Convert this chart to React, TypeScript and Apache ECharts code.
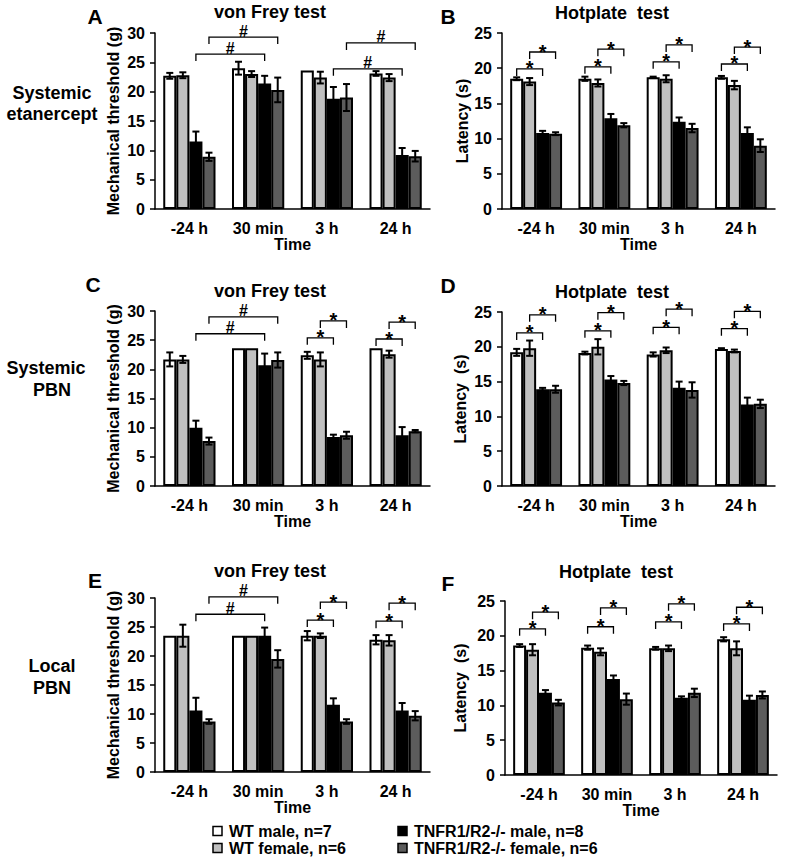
import React, { useEffect, useRef } from 'react';
import * as echarts from 'echarts';

const CATEGORIES = ['-24 h', '30 min', '3 h', '24 h'];
const SERIES_NAMES = ['WT male, n=7', 'WT female, n=6', 'TNFR1/R2-/- male, n=8', 'TNFR1/R2-/- female, n=6'];
const COLORS = ['#ffffff', '#c0c0c0', '#000000', '#5c5c5c'];

// rows: WT male, WT female, TNFR1/R2-/- male, TNFR1/R2-/- female ; columns: categories
const A_MEANS = [
  [22.7, 24.0, 23.6, 23.1],
  [22.8, 23.0, 22.4, 22.4],
  [11.5, 21.4, 18.8, 9.2],
  [8.9, 20.3, 19.0, 9.0],
];
const A_ERRS = [
  [0.5, 1.1, 0, 0.4],
  [0.5, 0.5, 1.0, 0.6],
  [1.7, 1.3, 2.0, 1.2],
  [0.7, 2.1, 2.3, 0.9],
];
const B_MEANS = [
  [18.5, 18.5, 18.7, 18.7],
  [18.1, 17.9, 18.5, 17.6],
  [10.8, 12.9, 12.4, 10.8],
  [10.7, 11.9, 11.5, 9.0],
];
const B_ERRS = [
  [0.2, 0.3, 0.1, 0.2],
  [0.5, 0.5, 0.5, 0.6],
  [0.3, 0.6, 0.6, 0.8],
  [0.2, 0.3, 0.6, 0.9],
];
const C_MEANS = [
  [21.7, 23.6, 22.4, 23.6],
  [21.7, 23.6, 21.7, 22.6],
  [10.0, 20.7, 8.4, 8.7],
  [7.7, 21.6, 8.7, 9.4],
];
const C_ERRS = [
  [1.2, 0, 0.6, 0],
  [0.6, 0, 1.2, 0.6],
  [1.2, 2.0, 0.4, 1.4],
  [0.6, 1.3, 0.6, 0.2],
];
const D_MEANS = [
  [19.2, 19.1, 18.9, 19.7],
  [19.8, 20.0, 19.5, 19.4],
  [13.9, 15.3, 14.1, 11.7],
  [13.9, 14.8, 13.8, 11.8],
];
const D_ERRS = [
  [0.5, 0.2, 0.3, 0.1],
  [1.1, 1.1, 0.4, 0.2],
  [0.2, 0.5, 0.9, 1.0],
  [0.5, 0.3, 1.1, 0.6],
];
const E_MEANS = [
  [23.5, 23.5, 23.5, 22.8],
  [23.5, 23.5, 23.5, 22.7],
  [10.6, 23.5, 11.6, 10.6],
  [8.7, 19.5, 8.7, 9.7],
];
const E_ERRS = [
  [0, 0, 0.8, 0.8],
  [1.9, 0, 0.4, 0.9],
  [2.2, 1.4, 1.1, 1.3],
  [0.4, 1.5, 0.4, 0.8],
];
const F_MEANS = [
  [18.6, 18.3, 18.2, 19.5],
  [18.0, 17.7, 18.2, 18.2],
  [11.8, 13.8, 11.1, 10.8],
  [10.4, 10.9, 11.8, 11.5],
];
const F_ERRS = [
  [0.2, 0.3, 0.2, 0.3],
  [0.8, 0.5, 0.4, 1.0],
  [0.4, 0.5, 0.2, 0.6],
  [0.4, 0.8, 0.6, 0.5],
];

// brackets: [fromCategory, fromSeries, toCategory, toSeries, level, mark]
const A_BRACKETS: [number, number, number, number, number, string][] = [
  [0, 2, 1, 2, 26.4, '#'], [0, 3, 1, 3, 29.3, '#'],
  [2, 2, 3, 2, 23.9, '#'], [2, 3, 3, 3, 28.3, '#'],
];
const B_BRACKETS: [number, number, number, number, number, string][] = [
  [0, 0, 0, 2, 19.9, '*'], [0, 1, 0, 3, 22.3, '*'],
  [1, 0, 1, 2, 20.2, '*'], [1, 1, 1, 3, 22.7, '*'],
  [2, 0, 2, 2, 20.9, '*'], [2, 1, 2, 3, 23.3, '*'],
  [3, 0, 3, 2, 20.6, '*'], [3, 1, 3, 3, 23.0, '*'],
];
const C_BRACKETS: [number, number, number, number, number, string][] = [
  [0, 2, 1, 2, 26.1, '#'], [0, 3, 1, 3, 29.0, '#'],
  [2, 0, 2, 2, 25.4, '*'], [2, 1, 2, 3, 28.3, '*'],
  [3, 0, 3, 2, 25.2, '*'], [3, 1, 3, 3, 28.1, '*'],
];
const D_BRACKETS: [number, number, number, number, number, string][] = [
  [0, 0, 0, 2, 22.0, '*'], [0, 1, 0, 3, 24.6, '*'],
  [1, 0, 1, 2, 22.3, '*'], [1, 1, 1, 3, 24.9, '*'],
  [2, 0, 2, 2, 22.8, '*'], [2, 1, 2, 3, 25.4, '*'],
  [3, 0, 3, 2, 22.6, '*'], [3, 1, 3, 3, 25.1, '*'],
];
const E_BRACKETS: [number, number, number, number, number, string][] = [
  [0, 2, 1, 2, 27.2, '#'], [0, 3, 1, 3, 30.2, '#'],
  [2, 0, 2, 2, 26.2, '*'], [2, 1, 2, 3, 29.3, '*'],
  [3, 0, 3, 2, 26.0, '*'], [3, 1, 3, 3, 29.1, '*'],
];
const F_BRACKETS: [number, number, number, number, number, string][] = [
  [0, 0, 0, 2, 21.0, '*'], [0, 1, 0, 3, 23.4, '*'],
  [1, 0, 1, 2, 21.3, '*'], [1, 1, 1, 3, 24.0, '*'],
  [2, 0, 2, 2, 22.0, '*'], [2, 1, 2, 3, 24.6, '*'],
  [3, 0, 3, 2, 21.7, '*'], [3, 1, 3, 3, 24.1, '*'],
];

const FONT = '"Liberation Sans", Arial, Helvetica, sans-serif';
const CAT_GAP = 0.24;

const PANELS = [
  { letter: 'A', means: A_MEANS, errs: A_ERRS, brackets: A_BRACKETS, grid: { left: 155, top: 33, width: 275, height: 176 }, max: 30, yName: 'Mechanical threshold (g)', nameGap: 34, title: 'von Frey test', tx: 270, ty: 12, lx: 95, ly: 16 },
  { letter: 'B', means: B_MEANS, errs: B_ERRS, brackets: B_BRACKETS, grid: { left: 502, top: 33, width: 273, height: 176 }, max: 25, yName: 'Latency (s)', nameGap: 29, title: 'Hotplate  test', tx: 612, ty: 13, lx: 448, ly: 16 },
  { letter: 'C', means: C_MEANS, errs: C_ERRS, brackets: C_BRACKETS, grid: { left: 155, top: 311, width: 275, height: 175 }, max: 30, yName: 'Mechanical threshold (g)', nameGap: 34, title: 'von Frey test', tx: 270, ty: 291, lx: 93, ly: 284 },
  { letter: 'D', means: D_MEANS, errs: D_ERRS, brackets: D_BRACKETS, grid: { left: 502, top: 312, width: 273, height: 174 }, max: 25, yName: 'Latency  (s)', nameGap: 34, title: 'Hotplate  test', tx: 612, ty: 292, lx: 448, ly: 285 },
  { letter: 'E', means: E_MEANS, errs: E_ERRS, brackets: E_BRACKETS, grid: { left: 155, top: 598, width: 275, height: 174 }, max: 30, yName: 'Mechanical threshold (g)', nameGap: 34, title: 'von Frey test', tx: 270, ty: 571, lx: 95, ly: 580 },
  { letter: 'F', means: F_MEANS, errs: F_ERRS, brackets: F_BRACKETS, grid: { left: 505, top: 601, width: 272, height: 174 }, max: 25, yName: 'Latency  (s)', nameGap: 37, title: 'Hotplate  test', tx: 616, ty: 572, lx: 448, ly: 583 },
];

const ROW_LABELS = [
  { text: 'Systemic', x: 52, y: 93 },
  { text: 'etanercept', x: 52, y: 114 },
  { text: 'Systemic', x: 46, y: 368 },
  { text: 'PBN', x: 52, y: 390 },
  { text: 'Local', x: 52, y: 666 },
  { text: 'PBN', x: 52, y: 688 },
];

function barOffset(api: any, s: number) {
  const catW = api.size([1, 0])[0];
  const group = catW * (1 - CAT_GAP);
  const bw = group / 4;
  return -group / 2 + bw * (s + 0.5);
}

function errRender(params: any, api: any) {
  const c = api.value(0);
  const m = api.value(1);
  const e = api.value(2);
  const s = api.value(3);
  if (!(e > 0)) return { type: 'group', children: [] };
  const x = api.coord([c, m])[0] + barOffset(api, s);
  const yT = api.coord([c, m + e])[1];
  const yB = api.coord([c, m - e])[1];
  const hw = 3.5;
  const st = { stroke: '#000', lineWidth: 2 };
  return {
    type: 'group',
    children: [
      { type: 'line', shape: { x1: x, y1: yT, x2: x, y2: yB }, style: st },
      { type: 'line', shape: { x1: x - hw, y1: yT, x2: x + hw, y2: yT }, style: st },
      { type: 'line', shape: { x1: x - hw, y1: yB, x2: x + hw, y2: yB }, style: st },
    ],
  };
}

function bracketRender(brackets: [number, number, number, number, number, string][]) {
  return (params: any, api: any) => {
    const b = brackets[params.dataIndex];
    const x1 = api.coord([b[0], 0])[0] + barOffset(api, b[1]);
    const x2 = api.coord([b[2], 0])[0] + barOffset(api, b[3]);
    const y = api.coord([b[0], b[4]])[1];
    const isStar = b[5] === '*';
    return {
      type: 'group',
      children: [
        {
          type: 'polyline',
          shape: { points: [[x1, y + 7], [x1, y], [x2, y], [x2, y + 7]] },
          style: { stroke: '#000', lineWidth: 1.3, fill: 'none' },
        },
        {
          type: 'text',
          style: {
            text: b[5],
            x: (x1 + x2) / 2,
            y: isStar ? y - 0.5 : y - 6,
            align: 'center',
            verticalAlign: 'middle',
            fontFamily: FONT,
            fontWeight: 'bold',
            fontSize: isStar ? 20 : 16,
            fill: '#000',
          },
        },
      ],
    };
  };
}

function buildOption() {
  const grid: any[] = [];
  const xAxis: any[] = [];
  const yAxis: any[] = [];
  const series: any[] = [];
  const graphic: any[] = [];
  const txt = (text: string, x: number, y: number, size: number, align = 'center') => ({
    type: 'text',
    x,
    y,
    style: { text, align, verticalAlign: 'middle', fontFamily: FONT, fontWeight: 'bold', fontSize: size, fill: '#000' },
  });

  PANELS.forEach((p, i) => {
    grid.push({ ...p.grid, containLabel: false });
    xAxis.push({
      gridIndex: i,
      type: 'category',
      data: CATEGORIES,
      axisLine: { lineStyle: { color: '#000', width: 1.5 } },
      axisTick: { alignWithLabel: true, length: 5, lineStyle: { color: '#000', width: 1.5 } },
      axisLabel: { color: '#000', fontFamily: FONT, fontWeight: 'bold', fontSize: 16, margin: 11 },
      name: 'Time',
      nameLocation: 'middle',
      nameGap: 27,
      nameTextStyle: { color: '#000', fontFamily: FONT, fontWeight: 'bold', fontSize: 16 },
    });
    yAxis.push({
      gridIndex: i,
      type: 'value',
      min: 0,
      max: p.max,
      interval: 5,
      splitLine: { show: false },
      axisLine: { show: true, lineStyle: { color: '#000', width: 1.5 } },
      axisTick: { show: true, length: 5, lineStyle: { color: '#000', width: 1.5 } },
      axisLabel: { color: '#000', fontFamily: FONT, fontWeight: 'bold', fontSize: 16, margin: 10 },
      name: p.yName,
      nameLocation: 'middle',
      nameGap: p.nameGap,
      nameTextStyle: { color: '#000', fontFamily: FONT, fontWeight: 'bold', fontSize: 16 },
    });
    p.means.forEach((vals, s) => {
      series.push({
        type: 'bar',
        name: SERIES_NAMES[s],
        xAxisIndex: i,
        yAxisIndex: i,
        data: vals,
        barGap: '0%',
        barCategoryGap: CAT_GAP * 100 + '%',
        itemStyle: { color: COLORS[s], borderColor: '#000', borderWidth: 2 },
        z: 2,
      });
    });
    const errData: number[][] = [];
    p.means.forEach((vals, s) => {
      vals.forEach((m, c) => errData.push([c, m, p.errs[s][c], s]));
    });
    series.push({
      type: 'custom',
      xAxisIndex: i,
      yAxisIndex: i,
      data: errData,
      encode: { x: 0, y: 1 },
      renderItem: errRender,
      clip: false,
      z: 5,
      silent: true,
    });
    series.push({
      type: 'custom',
      xAxisIndex: i,
      yAxisIndex: i,
      data: p.brackets.map((b) => [b[0], b[4]]),
      encode: { x: 0, y: 1 },
      renderItem: bracketRender(p.brackets),
      clip: false,
      z: 6,
      silent: true,
    });
    graphic.push(txt(p.title, p.tx, p.ty, 18));
    graphic.push(txt(p.letter, p.lx, p.ly, 21));
  });

  ROW_LABELS.forEach((r) => graphic.push(txt(r.text, r.x, r.y, 18)));

  const legendPos = [
    { x: 213, y: 831 },
    { x: 213, y: 848 },
    { x: 398, y: 831 },
    { x: 398, y: 848 },
  ];
  SERIES_NAMES.forEach((name, s) => {
    const lp = legendPos[s];
    graphic.push({
      type: 'rect',
      shape: { x: lp.x, y: lp.y - 4.5, width: 9, height: 9 },
      style: { fill: COLORS[s], stroke: '#000', lineWidth: 1.5 },
    });
    graphic.push(txt(name, lp.x + 16, lp.y, 16, 'left'));
  });

  return {
    animation: false,
    backgroundColor: '#ffffff',
    grid,
    xAxis,
    yAxis,
    series,
    graphic,
  };
}

export default function App() {
  const ref = useRef<HTMLDivElement>(null);
  useEffect(() => {
    document.body.style.margin = '0';
    if (!ref.current) return;
    const chart = echarts.init(ref.current, undefined, { renderer: 'svg' });
    chart.setOption(buildOption() as any);
    return () => chart.dispose();
  }, []);
  return <div ref={ref} style={{ width: 785, height: 864 }} />;
}
